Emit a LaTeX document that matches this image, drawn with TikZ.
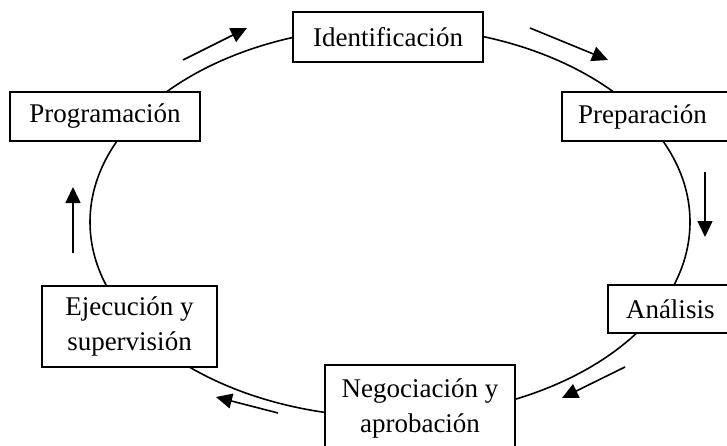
\documentclass[tikz,border=0pt]{standalone}
\usepackage{fontspec}
\setmainfont{Liberation Serif}
\usetikzlibrary{arrows.meta}
\begin{document}
\begin{tikzpicture}[x=1pt,y=-1pt,
  box/.style={draw,line width=1.5pt,fill=white,inner sep=0pt,align=center,
    font=\fontsize{27}{35}\selectfont},
  flow/.style={line width=1.6pt,-{Triangle[length=16pt,width=15pt]}},
  ring/.style={line width=1.6pt}]
\path[use as bounding box,clip] (0,0) rectangle (727,445);
\draw[ring] (390,222) ellipse [x radius=300pt, y radius=195pt];
\node[box,minimum width=190pt,minimum height=50pt] (ident) at (388,37) {Identificación};
\node[box,minimum width=190pt,minimum height=49pt] (prog) at (105,116.5) {Programación};
\node[box,minimum width=170pt,minimum height=49pt,text width=164pt,align=left] (prep) at (647,116.5) {\hspace*{13pt}Preparación};
\node[box,minimum width=175pt,minimum height=81pt] (eje) at (129.5,326.5) {Ejecución y\\supervisión};
\node[box,minimum width=125pt,minimum height=48pt,text width=119pt,align=left] (anal) at (670.5,309) {\hspace*{15pt}Análisis};
\node[box,minimum width=190pt,minimum height=86pt] (nego) at (420,408) {Negociación y\\aprobación};
\coordinate (a1s) at (183,60);  \coordinate (a1e) at (247,28);
\coordinate (a2s) at (530,28);  \coordinate (a2e) at (608,60);
\coordinate (a3s) at (705,172); \coordinate (a3e) at (705,237);
\coordinate (a4s) at (625,367); \coordinate (a4e) at (562,398);
\coordinate (a5s) at (278,413); \coordinate (a5e) at (216,397);
\coordinate (a6s) at (73,253);  \coordinate (a6e) at (73,187);
\draw[flow] (a1s) -- (a1e);
\draw[flow] (a2s) -- (a2e);
\draw[flow] (a3s) -- (a3e);
\draw[flow] (a4s) -- (a4e);
\draw[flow] (a5s) -- (a5e);
\draw[flow] (a6s) -- (a6e);
\end{tikzpicture}
\end{document}
